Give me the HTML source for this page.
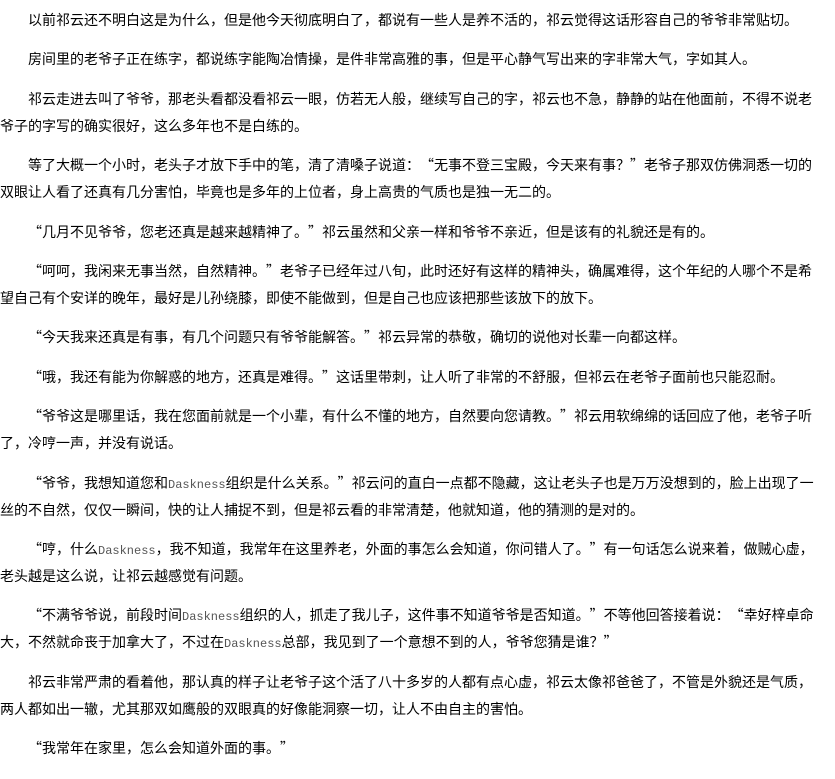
<!DOCTYPE html>
<html lang="zh-CN">
<head>
<meta charset="utf-8">
<style>
html,body{margin:0;padding:0;background:#fff;}
body{width:835px;height:779px;overflow:hidden;}
.wrap{padding-top:7px;}
p{margin:0 0 12.4px 0;padding:0;font-family:"Noto Sans CJK SC","WenQuanYi Zen Hei","Liberation Sans",sans-serif;font-size:14px;line-height:27px;color:#000;text-indent:28px;white-space:nowrap;}
.d{font-family:"Liberation Mono",monospace;font-size:12px;color:#555;line-height:10px;}
.o,.c{display:inline-block;width:14px;text-indent:0;}
.o{text-align:right;}
.c{text-align:left;}
</style>
</head>
<body>
<div class="wrap">
<p>以前祁云还不明白这是为什么，但是他今天彻底明白了，都说有一些人是养不活的，祁云觉得这话形容自己的爷爷非常贴切。</p>
<p>房间里的老爷子正在练字，都说练字能陶冶情操，是件非常高雅的事，但是平心静气写出来的字非常大气，字如其人。</p>
<p>祁云走进去叫了爷爷，那老头看都没看祁云一眼，仿若无人般，继续写自己的字，祁云也不急，静静的站在他面前，不得不说老<br>爷子的字写的确实很好，这么多年也不是白练的。</p>
<p>等了大概一个小时，老头子才放下手中的笔，清了清嗓子说道：<span class="o">“</span>无事不登三宝殿，今天来有事？<span class="c">”</span>老爷子那双仿佛洞悉一切的<br>双眼让人看了还真有几分害怕，毕竟也是多年的上位者，身上高贵的气质也是独一无二的。</p>
<p><span class="o">“</span>几月不见爷爷，您老还真是越来越精神了。<span class="c">”</span>祁云虽然和父亲一样和爷爷不亲近，但是该有的礼貌还是有的。</p>
<p><span class="o">“</span>呵呵，我闲来无事当然，自然精神。<span class="c">”</span>老爷子已经年过八旬，此时还好有这样的精神头，确属难得，这个年纪的人哪个不是希<br>望自己有个安详的晚年，最好是儿孙绕膝，即使不能做到，但是自己也应该把那些该放下的放下。</p>
<p><span class="o">“</span>今天我来还真是有事，有几个问题只有爷爷能解答。<span class="c">”</span>祁云异常的恭敬，确切的说他对长辈一向都这样。</p>
<p><span class="o">“</span>哦，我还有能为你解惑的地方，还真是难得。<span class="c">”</span>这话里带刺，让人听了非常的不舒服，但祁云在老爷子面前也只能忍耐。</p>
<p><span class="o">“</span>爷爷这是哪里话，我在您面前就是一个小辈，有什么不懂的地方，自然要向您请教。<span class="c">”</span>祁云用软绵绵的话回应了他，老爷子听<br>了，冷哼一声，并没有说话。</p>
<p><span class="o">“</span>爷爷，我想知道您和<span class="d">Daskness</span>组织是什么关系。<span class="c">”</span>祁云问的直白一点都不隐藏，这让老头子也是万万没想到的，脸上出现了一<br>丝的不自然，仅仅一瞬间，快的让人捕捉不到，但是祁云看的非常清楚，他就知道，他的猜测的是对的。</p>
<p><span class="o">“</span>哼，什么<span class="d">Daskness</span>，我不知道，我常年在这里养老，外面的事怎么会知道，你问错人了。<span class="c">”</span>有一句话怎么说来着，做贼心虚，<br>老头越是这么说，让祁云越感觉有问题。</p>
<p><span class="o">“</span>不满爷爷说，前段时间<span class="d">Daskness</span>组织的人，抓走了我儿子，这件事不知道爷爷是否知道。<span class="c">”</span>不等他回答接着说：<span class="o">“</span>幸好梓卓命<br>大，不然就命丧于加拿大了，不过在<span class="d">Daskness</span>总部，我见到了一个意想不到的人，爷爷您猜是谁？<span class="c">”</span></p>
<p>祁云非常严肃的看着他，那认真的样子让老爷子这个活了八十多岁的人都有点心虚，祁云太像祁爸爸了，不管是外貌还是气质，<br>两人都如出一辙，尤其那双如鹰般的双眼真的好像能洞察一切，让人不由自主的害怕。</p>
<p><span class="o">“</span>我常年在家里，怎么会知道外面的事。<span class="c">”</span></p>
</div>
</body>
</html>
